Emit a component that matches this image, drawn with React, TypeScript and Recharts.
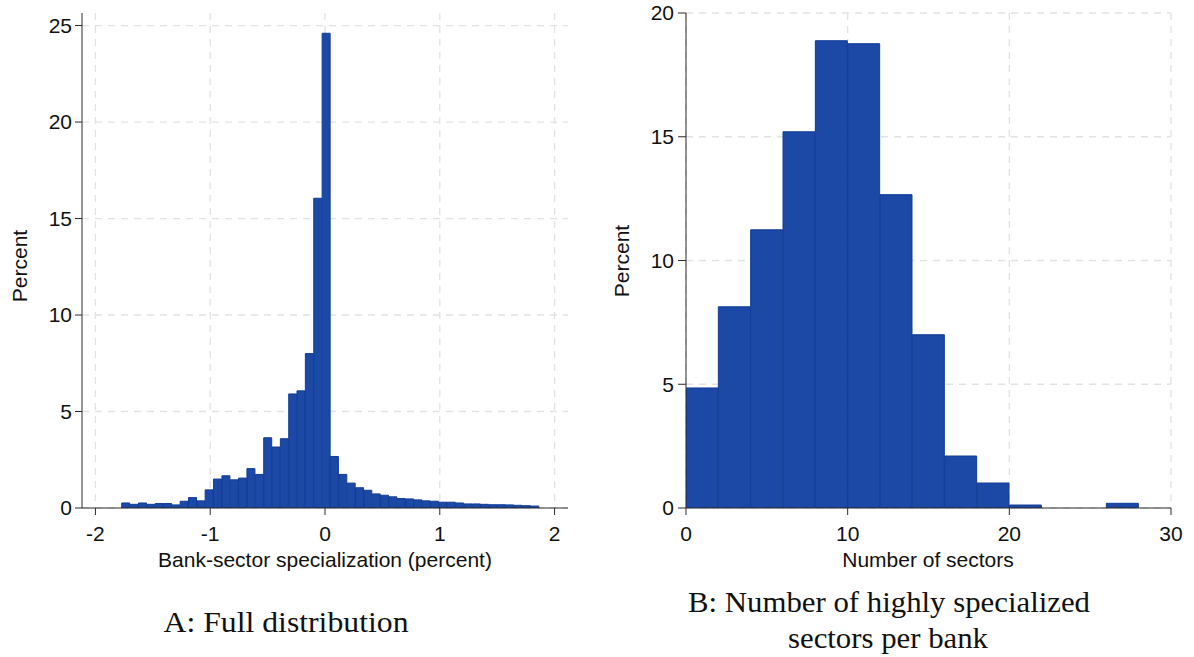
import React from 'react';
import { ComposedChart, Bar, XAxis, YAxis, CartesianGrid } from 'recharts';

// Panel A: bank-sector specialization histogram (bin centers, percent)
const specBinCenters = [
  -1.735, -1.662, -1.589, -1.517, -1.444, -1.371, -1.298, -1.226, -1.153, -1.080,
  -1.008, -0.935, -0.862, -0.789, -0.717, -0.644, -0.571, -0.498, -0.426, -0.353,
  -0.280, -0.208, -0.135, -0.062, 0.011, 0.083, 0.156, 0.229, 0.302, 0.374,
  0.447, 0.520, 0.592, 0.665, 0.738, 0.811, 0.883, 0.956, 1.029, 1.101,
  1.174, 1.247, 1.320, 1.392, 1.465, 1.538, 1.610, 1.683, 1.756, 1.829,
];
const specPercent = [
  0.26, 0.19, 0.26, 0.19, 0.23, 0.23, 0.16, 0.35, 0.54, 0.37,
  0.94, 1.50, 1.67, 1.46, 1.55, 2.04, 1.74, 3.64, 3.16, 3.59,
  5.91, 6.07, 8.0, 16.05, 24.6, 2.67, 1.74, 1.29, 1.05, 0.92,
  0.73, 0.66, 0.58, 0.49, 0.47, 0.42, 0.37, 0.35, 0.30, 0.30,
  0.26, 0.21, 0.21, 0.19, 0.17, 0.17, 0.16, 0.14, 0.12, 0.10,
];
const specXTicks = [-2, -1, 0, 1, 2];
const specYTicks = [0, 5, 10, 15, 20, 25];

// Panel B: number of highly specialized sectors per bank (bin centers, percent)
const sectorBinCenters = [1, 3, 5, 7, 9, 11, 13, 15, 17, 19, 21, 23, 25, 27];
const sectorPercent = [4.85, 8.13, 11.24, 15.2, 18.88, 18.76, 12.66, 7.0, 2.1, 1.01, 0.12, 0, 0, 0.19];
const sectorXTicks = [0, 10, 20, 30];
const sectorYTicks = [0, 5, 10, 15, 20];

const leftData = specBinCenters.map((x, i) => ({ x, y: specPercent[i] }));
const rightData = sectorBinCenters.map((x, i) => ({ x, y: sectorPercent[i] }));

const FILL = '#1c48a6';
const EDGE = '#123d96';
const GRID = '#e3e3e3';
const AXIS = '#2b2b2b';
const SANS = '"Liberation Sans", Arial, sans-serif';
const SERIF = '"Liberation Serif", "Times New Roman", serif';

const tickStyle = { fill: '#111', fontSize: 21, fontFamily: SANS };

export default function App() {
  return (
    <div style={{ position: 'absolute', left: 0, top: 0, width: 1194, height: 657, background: '#fff', overflow: 'hidden' }}>
      <div style={{ position: 'absolute', left: 0, top: 0 }}>
        <ComposedChart
          width={600}
          height={548}
          data={leftData}
          margin={{ top: 13, right: 32, bottom: 0, left: 22 }}
          barCategoryGap={0}
          barGap={0}
        >
          <CartesianGrid
            stroke={GRID}
            strokeDasharray="7 6"
            strokeWidth={1.3}
            verticalValues={specXTicks}
            horizontalValues={specYTicks}
          />
          <XAxis
            type="number"
            dataKey="x"
            domain={[-2.117, 2.117]}
            ticks={specXTicks}
            allowDataOverflow
            height={40}
            tickSize={7}
            tickMargin={11}
            stroke={AXIS}
            tick={tickStyle}
            interval={0}
          />
          <YAxis
            type="number"
            domain={[0, 25.65]}
            ticks={specYTicks}
            allowDataOverflow
            width={60}
            tickSize={7}
            tickMargin={3}
            stroke={AXIS}
            tick={tickStyle}
            interval={0}
          />
          <Bar dataKey="y" fill={FILL} stroke={EDGE} strokeWidth={1} isAnimationActive={false} />
        </ComposedChart>
      </div>
      <div style={{ position: 'absolute', left: 600, top: 0 }}>
        <ComposedChart
          width={594}
          height={548}
          data={rightData}
          margin={{ top: 13, right: 23, bottom: 0, left: 26 }}
          barCategoryGap={0}
          barGap={0}
        >
          <CartesianGrid
            stroke={GRID}
            strokeDasharray="7 6"
            strokeWidth={1.3}
            verticalValues={sectorXTicks}
            horizontalValues={sectorYTicks}
          />
          <XAxis
            type="number"
            dataKey="x"
            domain={[0, 30]}
            ticks={sectorXTicks}
            allowDataOverflow
            height={40}
            tickSize={7}
            tickMargin={11}
            stroke={AXIS}
            tick={tickStyle}
            interval={0}
          />
          <YAxis
            type="number"
            domain={[0, 20]}
            ticks={sectorYTicks}
            allowDataOverflow
            width={60}
            tickSize={8}
            tickMargin={4}
            stroke={AXIS}
            tick={tickStyle}
            interval={0}
          />
          <Bar dataKey="y" fill={FILL} stroke={EDGE} strokeWidth={1} isAnimationActive={false} />
        </ComposedChart>
      </div>
      <svg width={1194} height={657} style={{ position: 'absolute', left: 0, top: 0, pointerEvents: 'none' }}>
        <text x={325} y={567} textAnchor="middle" fontFamily={SANS} fontSize={21} fill="#111">
          Bank-sector specialization (percent)
        </text>
        <text x={928} y={567} textAnchor="middle" fontFamily={SANS} fontSize={21} fill="#111">
          Number of sectors
        </text>
        <text x={27} y={266} textAnchor="middle" fontFamily={SANS} fontSize={21} fill="#111" transform="rotate(-90 27 266)">
          Percent
        </text>
        <text x={629} y={261} textAnchor="middle" fontFamily={SANS} fontSize={21} fill="#111" transform="rotate(-90 629 261)">
          Percent
        </text>
        <text x={286} y={632} textAnchor="middle" fontFamily={SERIF} fontSize={29} fill="#111" textLength={245} lengthAdjust="spacingAndGlyphs">
          A: Full distribution
        </text>
        <text x={889} y={612} textAnchor="middle" fontFamily={SERIF} fontSize={29} fill="#111" textLength={402} lengthAdjust="spacingAndGlyphs">
          B: Number of highly specialized
        </text>
        <text x={888} y={648} textAnchor="middle" fontFamily={SERIF} fontSize={29} fill="#111" textLength={200} lengthAdjust="spacingAndGlyphs">
          sectors per bank
        </text>
      </svg>
    </div>
  );
}
